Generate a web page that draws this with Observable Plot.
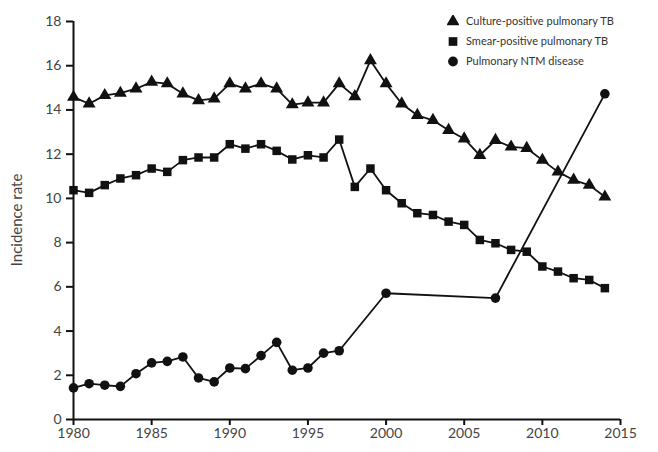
<!DOCTYPE html>
<html><head><meta charset="utf-8">
<script src="https://cdn.jsdelivr.net/npm/d3@7"></script>
<script src="https://cdn.jsdelivr.net/npm/@observablehq/plot@0.6"></script>
<style>
body{margin:0;background:#fff;font-family:Lato,"Open Sans",sans-serif;}
#wrap{position:relative;width:658px;height:452px;}
#legend{position:absolute;left:447px;top:11px;font-size:11px;color:#333;line-height:20px;}
#legend div{display:flex;align-items:center;height:20px;}
#legend svg{margin-right:7px;}
</style></head><body>
<div id="wrap"><div id="legend"></div></div>
<script>
const cultureYears = d3.range(1980, 2015);
const culture = [14.58,14.28,14.66,14.76,14.96,15.26,15.19,14.73,14.43,14.51,15.19,14.96,15.19,14.96,14.24,14.33,14.33,15.19,14.61,16.24,15.19,14.28,13.76,13.53,13.08,12.7,11.95,12.63,12.33,12.27,11.73,11.2,10.83,10.6,10.07];
const smearYears = d3.range(1980, 2015);
const smear = [10.37,10.25,10.6,10.9,11.05,11.35,11.2,11.73,11.85,11.85,12.45,12.25,12.45,12.15,11.76,11.95,11.85,12.66,10.52,11.35,10.37,9.78,9.33,9.25,8.95,8.8,8.12,7.97,7.67,7.59,6.92,6.69,6.39,6.31,5.94];
const ntmYears = [1980,1981,1982,1983,1984,1985,1986,1987,1988,1989,1990,1991,1992,1993,1994,1995,1996,1997,2000,2007,2014];
const ntm = [1.43,1.62,1.55,1.5,2.07,2.56,2.63,2.83,1.88,1.70,2.33,2.3,2.89,3.49,2.23,2.33,3.0,3.11,5.71,5.49,14.73];
const seriesNames = ["Culture-positive pulmonary TB","Smear-positive pulmonary TB","Pulmonary NTM disease"];
const symbols = ["triangle","square","circle"];
const xTicks = [1980,1985,1990,1995,2000,2005,2010,2015];
const yTicks = [0,2,4,6,8,10,12,14,16,18];

const data = [
  ...cultureYears.map((y,i)=>({year:y, value:culture[i], s:seriesNames[0]})),
  ...smearYears.map((y,i)=>({year:y, value:smear[i], s:seriesNames[1]})),
  ...ntmYears.map((y,i)=>({year:y, value:ntm[i], s:seriesNames[2]}))
];

const chart = Plot.plot({
  width: 658, height: 452,
  marginLeft: 73, marginRight: 38, marginTop: 21, marginBottom: 33,
  style: {fontFamily: "Lato, 'Open Sans', sans-serif", fontSize: "14px", color: "#444", background: "transparent"},
  x: {domain: [1980, 2015], ticks: xTicks, tickFormat: d => String(d)},
  y: {domain: [0, 18], ticks: yTicks},
  symbol: {domain: seriesNames, range: symbols},
  marks: [
    Plot.axisX({ticks: xTicks, tickFormat: d=>String(d), tickSize: 6, tickPadding: 3, stroke: "#111", strokeWidth: 2, label: null, fontSize: 14}),
    Plot.axisY({ticks: yTicks, tickSize: 7, tickPadding: 5, stroke: "#111", strokeWidth: 2, label: null, fontSize: 14}),
    Plot.ruleY([0], {stroke: "#111", strokeWidth: 2}),
    Plot.ruleX([1980], {stroke: "#111", strokeWidth: 2}),
    Plot.line(data, {x: "year", y: "value", z: "s", stroke: "#111", strokeWidth: 1.8}),
    Plot.dot(data, {x: "year", y: "value", symbol: "s", fill: "#111", stroke: "none", r: 4.8})
  ]
});
document.getElementById("wrap").prepend(chart);

// y-axis title
const svg = d3.select(chart);
svg.append("text").attr("transform","translate(22,220) rotate(-90)").attr("text-anchor","middle")
  .attr("font-size","15px").attr("fill","#444").text("Incidence rate");

// legend
const leg = d3.select("#legend");
const symGen = {triangle: d3.symbolTriangle, square: d3.symbolSquare, circle: d3.symbolCircle};
seriesNames.forEach((n,i)=>{
  const row = leg.append("div");
  const s = row.append("svg").attr("width",12).attr("height",12);
  s.append("path").attr("transform","translate(6,6.5)").attr("fill","#111")
    .attr("d", d3.symbol(symGen[symbols[i]], 75)());
  row.append("span").text(n);
});
</script>
</body></html>
